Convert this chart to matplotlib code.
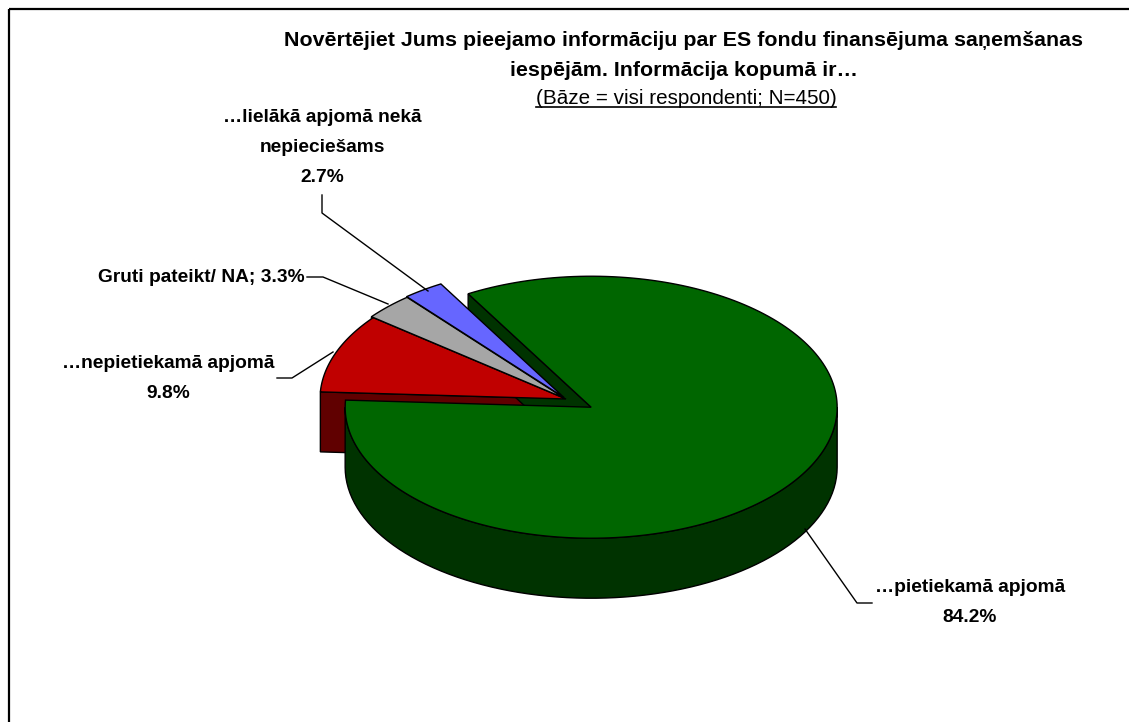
import numpy as np
import matplotlib
matplotlib.use("Agg")
import matplotlib.pyplot as plt
from matplotlib import font_manager as fm
from matplotlib.patches import Polygon, Rectangle

# === Data ===
categories = ["…pietiekamā apjomā", "…nepietiekamā apjomā",
              "Gruti pateikt/ NA", "…lielākā apjomā nekā\nnepieciešams"]
values = [84.2, 9.8, 3.3, 2.7]
title_lines = ["Novērtējiet Jums pieejamo informāciju par ES fondu finansējuma saņemšanas",
               "iespējām. Informācija kopumā ir…"]
subtitle = "(Bāze = visi respondenti; N=450)"

# === Style ===
top_colors = ["#006600", "#C00000", "#A6A6A6", "#6666FF"]
side_colors = ["#003300", "#600000", "#555555", "#33338A"]
explode = [0.12, 0.0, 0.01, 0.015]

names = {f.name for f in fm.fontManager.ttflist}
FONT = ["Liberation Sans Narrow"] if "Liberation Sans Narrow" in names else ["Liberation Sans"]
FONT = FONT + ["DejaVu Sans"]
narrow = FONT[0] == "Liberation Sans Narrow"
LBL = 16 if narrow else 13.8
TTL = 18 if narrow else 15.4
SUB = 17 if narrow else 14.9

# pie geometry in pixel coords (y down)
cx, cy = 566, 399
rx, ry, depth = 246, 131, 60
start_angle = 120.0


def pt(c, t):
    t = np.radians(t)
    return c[0] + rx * np.cos(t), c[1] - ry * np.sin(t)


fig = plt.figure(figsize=(11.29, 7.22), dpi=100)
ax = fig.add_axes([0, 0, 1, 1])
ax.set_xlim(0, 1129)
ax.set_ylim(722, 0)
ax.axis("off")

# frame (right and bottom edges fall outside the picture)
ax.add_patch(Rectangle((9, 9), 1200, 800, fill=False, ec="black", lw=1.6))

total = sum(values)
bounds = [start_angle]
for v in values:
    bounds.append(bounds[-1] - 360.0 * v / total)

slices = []
for i, v in enumerate(values):
    a0, a1 = bounds[i], bounds[i + 1]   # a0 > a1, clockwise
    mid = np.radians((a0 + a1) / 2)
    c = (cx + explode[i] * rx * np.cos(mid), cy - explode[i] * ry * np.sin(mid))
    slices.append((i, a0, a1, c))

# sides: back to front
order = sorted(slices, key=lambda s: s[3][1] + ry * (-np.sin(np.radians((s[1] + s[2]) / 2))))
for i, a0, a1, c in order:
    # radial faces
    for a, vis in ((a0, np.cos(np.radians(a0)) < 0), (a1, np.cos(np.radians(a1)) > 0)):
        if vis:
            x, y = pt(c, a)
            poly = [c, (x, y), (x, y + depth), (c[0], c[1] + depth)]
            ax.add_patch(Polygon(poly, closed=True, fc=side_colors[i], ec="black", lw=1.0))
    # front curved face
    for k in (-1, 0, 1):
        lo, hi = max(a1, -180 + 360 * k), min(a0, 360 * k)
        if hi > lo:
            t = np.linspace(lo, hi, 80)
            xs, ys = pt(c, t)
            poly = list(zip(xs, ys)) + list(zip(xs[::-1], ys[::-1] + depth))
            ax.add_patch(Polygon(poly, closed=True, fc=side_colors[i], ec="black", lw=1.0))

# tops
for i, a0, a1, c in slices:
    t = np.linspace(a0, a1, 200)
    xs, ys = pt(c, t)
    poly = [c] + list(zip(xs, ys))
    ax.add_patch(Polygon(poly, closed=True, fc=top_colors[i], ec="black", lw=1.0))

# === Labels with leader lines ===
lab_kw = dict(fontsize=LBL, fontweight="bold", family=FONT, ha="center", va="center",
              linespacing=2.0)
ax.text(970, 602, f"{categories[0]}\n{values[0]:.1f}%", **lab_kw)
ax.plot([872, 857, 805], [603, 603, 529], color="black", lw=1.0)

ax.text(168, 378, f"{categories[1]}\n{values[1]:.1f}%", **lab_kw)
ax.plot([277, 292, 333], [378, 378, 352], color="black", lw=1.0)

ax.text(305, 277, f"{categories[2]}; {values[2]:.1f}%", fontsize=LBL, fontweight="bold",
        family=FONT, ha="right", va="center")
ax.plot([307, 323, 388], [277, 277, 304], color="black", lw=1.0)

ax.text(322, 148, f"{categories[3]}\n{values[3]:.1f}%", **lab_kw)
ax.plot([322, 322, 428], [195, 213, 291], color="black", lw=1.0)

# === Title ===
ax.text(684, 40, title_lines[0], fontsize=TTL, fontweight="bold", family=FONT,
        ha="center", va="center")
ax.text(684, 70, title_lines[1], fontsize=TTL, fontweight="bold", family=FONT,
        ha="center", va="center")
sub = ax.text(686, 98, subtitle, fontsize=SUB, family=FONT, ha="center", va="center")

# underline the subtitle
fig.canvas.draw()
bb = sub.get_window_extent().transformed(ax.transData.inverted())
x0, x1 = min(bb.x0, bb.x1), max(bb.x0, bb.x1)
yb = max(bb.y0, bb.y1) - 1
ax.plot([x0, x1], [yb, yb], color="black", lw=1.2)

fig.savefig("out.png", dpi=100)
